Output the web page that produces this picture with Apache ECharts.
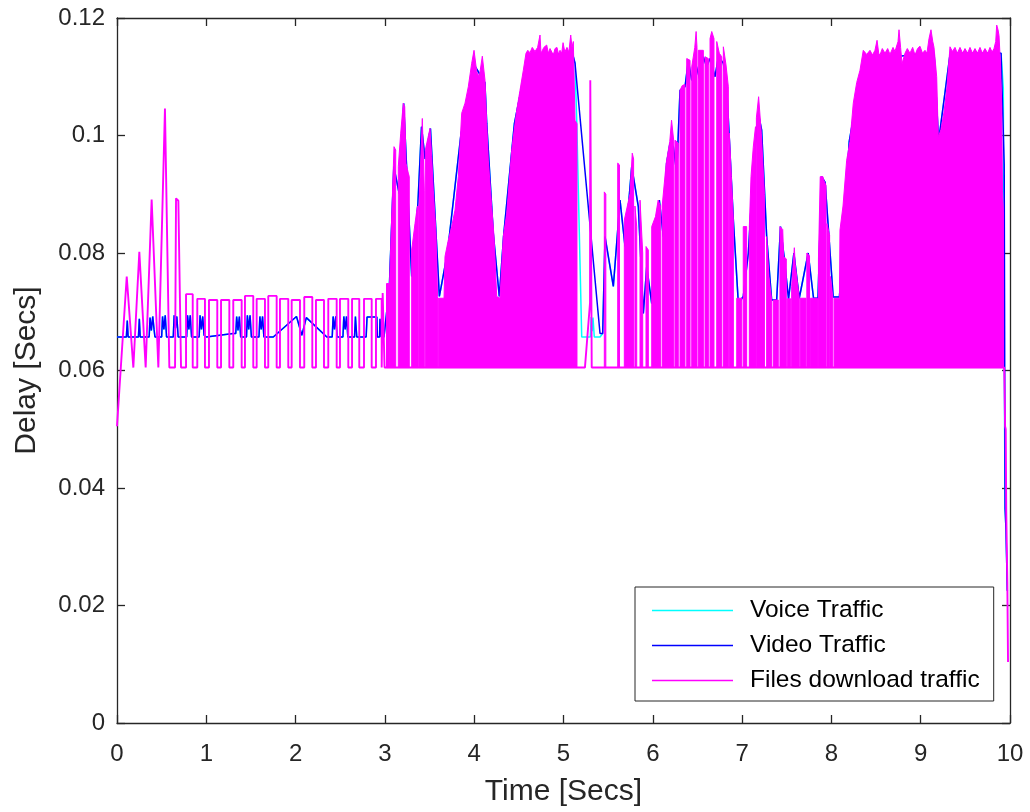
<!DOCTYPE html>
<html>
<head>
<meta charset="utf-8">
<script src="https://cdn.jsdelivr.net/npm/echarts@6/dist/echarts.min.js"></script>
<style>
html,body{margin:0;padding:0;background:#fff;}
#chart{width:1030px;height:812px;}
</style>
</head>
<body>
<div id="chart"></div>
<script>
// ---------------- DATA ----------------
var seriesNames = ['Voice Traffic', 'Video Traffic', 'Files download traffic'];
var xTicks = [0,1,2,3,4,5,6,7,8,9,10];
var yTicks = [0,0.02,0.04,0.06,0.08,0.1,0.12];

// Files download traffic: floor level of the oscillation
var filesBase = 0.0605;

// Files download traffic: first spikes (time, delay)
var filesStart = [[0.00,0.0505],[0.109,0.0760],[0.183,0.0605],[0.25,0.0802],[0.321,0.0605],
  [0.388,0.0891],[0.463,0.0605],[0.537,0.1046],[0.586,0.0605],[0.65,0.0605],
  [0.661,0.0893],[0.687,0.0889],[0.705,0.0889],[0.717,0.0605]];

// Files download traffic: rectangular pulses between 0.77 s and 3 s
var pulseStart = [0.773,0.899,1.030,1.165,1.302,1.433,1.564,1.694,1.825,1.956,2.097,2.228,2.366,2.497,2.632,2.766,2.900,2.975];
var pulseEnd   = [0.848,0.985,1.123,1.258,1.396,1.526,1.657,1.788,1.918,2.049,2.187,2.318,2.460,2.590,2.713,2.852,2.964,2.996];
var pulseTop   = [0.0730,0.0722,0.0720,0.0720,0.0720,0.0727,0.0722,0.0727,0.0722,0.0720,0.0725,0.0720,0.0722,0.0722,0.0722,0.0722,0.0722,0.0732];

// Files download traffic: isolated spike after 5 s and the final drop
var filesSpike = [[5.240,0.0605],[5.297,0.0715],[5.300,0.1094],[5.312,0.1094],[5.316,0.0605]];
var filesEnd = [[9.935,0.0605],[9.945,0.0505],[9.952,0.0500],[9.958,0.0360],[9.970,0.0240],[9.978,0.0104]];

// Files download traffic: dense oscillation bursts, upper envelope (time, delay)
var filesBursts = [
  [[3.018,0.0748],[3.047,0.0748]],
  [[3.049,0.0735],[3.102,0.0981],[3.121,0.0975]],
  [[3.150,0.0947],[3.177,0.1004],[3.206,0.1055],[3.222,0.1049],[3.236,0.0953],[3.262,0.0936],[3.273,0.0930]],
  [[3.300,0.0805],[3.337,0.0850],[3.363,0.0879],[3.374,0.0880]],
  [[3.382,0.0880],[3.419,0.1029],[3.441,0.0907]],
  [[3.452,0.0975],[3.505,0.1012],[3.524,0.0964],[3.542,0.0907],[3.572,0.0834],[3.590,0.0726]],
  [[3.598,0.0723],[3.662,0.0723],[3.673,0.0794],[3.710,0.0822],[3.748,0.0845],[3.785,0.0873],[3.822,0.0930],
   [3.860,0.1038],[3.897,0.1055],[3.934,0.1083],[3.972,0.1123],[3.998,0.1145],[4.028,0.1109],[4.057,0.1100],
   [4.091,0.1135],[4.121,0.1094],[4.140,0.1021],[4.158,0.0958],[4.196,0.0879],[4.222,0.0828],[4.252,0.0726],
   [4.289,0.0723],[4.326,0.0828],[4.364,0.0867],[4.420,0.0975],[4.476,0.1043],[4.513,0.1077],[4.550,0.1111],
   [4.580,0.1140],[4.600,0.1145],[4.625,0.1141],[4.650,0.1150],[4.681,0.1143],[4.710,0.1150],[4.737,0.1171],
   [4.748,0.1140],[4.780,0.1150],[4.812,0.1154],[4.830,0.1140],[4.849,0.1148],[4.886,0.1137],[4.905,0.1148],
   [4.927,0.1150],[4.945,0.1138],[4.961,0.1145],[4.980,0.1140],[4.995,0.1158],[5.015,0.1142],[5.039,0.1150],
   [5.060,0.1142],[5.081,0.1171],[5.095,0.1150],[5.110,0.1160],[5.129,0.1026],[5.151,0.1020]],
  [[5.457,0.0904],[5.474,0.0900]],
  [[5.607,0.0953],[5.627,0.0950]],
  [[5.681,0.0856],[5.715,0.0880],[5.745,0.0901],[5.770,0.0970],[5.785,0.0960]],
  [[5.800,0.0880],[5.820,0.0845]],
  [[5.857,0.0890],[5.887,0.0800]],
  [[5.924,0.0811],[5.950,0.0805]],
  [[5.988,0.0845],[6.030,0.0862],[6.060,0.0890],[6.085,0.0880]],
  [[6.105,0.0880],[6.150,0.0953],[6.190,0.0990],[6.210,0.1026],[6.235,0.0990]],
  [[6.249,0.0992],[6.285,0.0987]],
  [[6.305,0.1077],[6.330,0.1085],[6.360,0.1087]],
  [[6.380,0.1131],[6.417,0.1128]],
  [[6.436,0.1117],[6.470,0.1150],[6.485,0.1177],[6.495,0.1150]],
  [[6.510,0.1145],[6.566,0.1145]],
  [[6.585,0.1134],[6.622,0.1131]],
  [[6.641,0.1165],[6.660,0.1177],[6.685,0.1165]],
  [[6.716,0.1160],[6.745,0.1140],[6.772,0.1134]],
  [[6.790,0.1151],[6.820,0.1120],[6.846,0.1083]],
  [[6.857,0.1004],[6.880,0.0930],[6.902,0.0856]],
  [[6.940,0.0723],[6.996,0.0723]],
  [[7.013,0.0845],[7.051,0.0845]],
  [[7.081,0.0845],[7.100,0.0930],[7.125,0.0980],[7.150,0.1015]],
  [[7.160,0.1030],[7.185,0.1066],[7.215,0.1004],[7.250,0.0900]],
  [[7.275,0.0828],[7.300,0.0760],[7.331,0.0720]],
  [[7.349,0.0720],[7.405,0.0720]],
  [[7.424,0.0845],[7.455,0.0840],[7.465,0.0794],[7.495,0.0790]],
  [[7.505,0.0722],[7.545,0.0722]],
  [[7.555,0.0743],[7.585,0.0809],[7.595,0.0780],[7.640,0.0723]],
  [[7.650,0.0723],[7.715,0.0723]],
  [[7.725,0.0800],[7.755,0.0795]],
  [[7.765,0.0723],[7.845,0.0723]],
  [[7.855,0.0790],[7.875,0.0930],[7.905,0.0930],[7.915,0.0924],[7.940,0.0915]],
  [[7.950,0.0850],[7.980,0.0830]],
  [[7.990,0.0760],[8.015,0.0725]],
  [[8.030,0.0723],[8.090,0.0723],[8.096,0.0839],[8.130,0.0880],[8.171,0.0958],[8.208,0.0990],[8.245,0.1055],
   [8.283,0.1090],[8.320,0.1111],[8.357,0.1145],[8.395,0.1138],[8.432,0.1145],[8.460,0.1137],[8.488,0.1145],
   [8.511,0.1162],[8.530,0.1140],[8.544,0.1137],[8.570,0.1148],[8.600,0.1140],[8.630,0.1148],[8.656,0.1138],
   [8.690,0.1150],[8.712,0.1143],[8.746,0.1160],[8.757,0.1180],[8.775,0.1150],[8.791,0.1122],[8.824,0.1140],
   [8.850,0.1148],[8.880,0.1140],[8.910,0.1150],[8.936,0.1137],[8.965,0.1148],[8.992,0.1152],[9.020,0.1140],
   [9.048,0.1145],[9.070,0.1140],[9.093,0.1165],[9.115,0.1180],[9.135,0.1160],[9.149,0.1150],
   [9.179,0.1100],[9.197,0.0998],[9.227,0.1010],[9.261,0.1040],[9.295,0.1083],[9.328,0.1151],[9.355,0.1143],
   [9.384,0.1150],[9.410,0.1140],[9.440,0.1150],[9.470,0.1140],[9.496,0.1148],[9.525,0.1140],[9.552,0.1150],
   [9.580,0.1140],[9.608,0.1148],[9.635,0.1140],[9.664,0.1150],[9.690,0.1140],[9.720,0.1148],[9.750,0.1140],
   [9.776,0.1150],[9.800,0.1142],[9.821,0.1148],[9.840,0.1160],[9.851,0.1188],[9.866,0.1180],[9.877,0.1170],
   [9.894,0.1120],[9.907,0.1050],[9.916,0.0907],[9.927,0.0870]]
];

// Video traffic (time, delay)
var videoTraffic = [[0.00,0.0657],[0.105,0.0657],[0.115,0.0685],[0.125,0.0657],
  [0.24,0.0657],[0.25,0.0688],[0.26,0.0657],
  [0.36,0.0657],[0.37,0.0690],[0.385,0.0668],[0.40,0.0692],[0.415,0.0670],[0.425,0.0657],
  [0.50,0.0657],[0.51,0.0692],[0.525,0.0670],[0.54,0.0694],[0.555,0.0657],
  [0.63,0.0657],[0.64,0.0694],[0.655,0.0672],[0.67,0.0692],[0.685,0.0657],
  [0.78,0.0657],[0.79,0.0694],[0.805,0.0670],[0.82,0.0694],[0.835,0.0657],
  [0.92,0.0657],[0.93,0.0694],[0.945,0.0670],[0.96,0.0692],[0.975,0.0660],[1.00,0.0657],
  [1.30,0.0663],[1.33,0.0663],[1.34,0.0692],[1.355,0.0668],[1.37,0.0692],[1.385,0.0657],
  [1.45,0.0657],[1.46,0.0694],[1.475,0.0670],[1.49,0.0694],[1.505,0.0657],
  [1.59,0.0657],[1.60,0.0692],[1.615,0.0670],[1.63,0.0692],[1.645,0.0657],
  [1.75,0.0657],[2.01,0.0692],[2.07,0.0660],[2.12,0.0690],[2.35,0.0657],
  [2.41,0.0657],[2.42,0.0692],[2.435,0.0670],[2.45,0.0692],[2.465,0.0657],
  [2.53,0.0657],[2.54,0.0692],[2.555,0.0670],[2.57,0.0692],[2.585,0.0657],
  [2.66,0.0657],[2.67,0.0692],[2.685,0.0657],
  [2.79,0.0657],[2.80,0.0691],[2.91,0.0691],[2.915,0.0657],
  [2.94,0.0657],[2.945,0.0688],[2.96,0.0657],[2.99,0.0657],
  [3.05,0.0743],[3.10,0.0947],[3.16,0.0901],[3.21,0.1055],[3.30,0.0760],[3.34,0.0828],[3.37,0.0885],
  [3.41,0.1015],[3.45,0.0960],[3.51,0.1012],[3.61,0.0726],[3.70,0.0800],[3.85,0.1000],[4.00,0.1120],
  [4.12,0.1090],[4.14,0.1021],[4.214,0.0833],[4.281,0.0726],[4.33,0.0830],[4.45,0.1020],[4.60,0.1135],
  [5.10,0.1140],[5.129,0.1123],[5.409,0.0663],[5.439,0.0663],[5.465,0.0828],[5.558,0.0743],[5.633,0.0890],
  [5.689,0.0811],[5.764,0.0947],[5.838,0.0879],[5.894,0.0697],[5.932,0.0777],[5.988,0.0714],[6.025,0.0845],
  [6.073,0.0890],[6.118,0.0828],[6.155,0.0953],[6.193,0.0987],[6.230,0.0981],[6.268,0.0936],[6.305,0.1077],
  [6.361,0.1083],[6.398,0.1128],[6.436,0.1094],[6.473,0.1126],[6.529,0.1094],[6.566,0.1134],[6.603,0.1117],
  [6.641,0.1131],[6.697,0.1100],[6.734,0.1134],[6.790,0.1123],[6.828,0.1083],[6.902,0.0856],[6.958,0.0714],
  [7.013,0.0726],[7.070,0.0800],[7.125,0.0942],[7.181,0.1038],[7.219,0.1009],[7.275,0.0828],[7.331,0.0720],
  [7.387,0.0720],[7.43,0.0845],[7.47,0.0794],[7.52,0.0722],[7.58,0.0800],[7.64,0.0723],[7.74,0.0800],
  [7.80,0.0723],[7.85,0.0723],[7.89,0.0930],[7.93,0.0920],[8.02,0.0725],[8.09,0.0725],[8.20,0.0990],
  [8.36,0.1130],[9.15,0.1140],[9.20,0.0990],[9.33,0.1140],[9.90,0.1140],[9.935,0.0950],[9.945,0.0365],
  [9.955,0.0330],[9.97,0.0225]];

// Voice traffic (time, delay)
var voiceTraffic = [[0.00,0.0657],[0.105,0.0657],[0.115,0.0685],[0.125,0.0657],
  [0.24,0.0657],[0.25,0.0688],[0.26,0.0657],
  [0.36,0.0657],[0.37,0.0690],[0.385,0.0668],[0.40,0.0692],[0.415,0.0670],[0.425,0.0657],
  [0.50,0.0657],[0.51,0.0692],[0.525,0.0670],[0.54,0.0694],[0.555,0.0657],
  [0.63,0.0657],[0.64,0.0694],[0.655,0.0672],[0.67,0.0692],[0.685,0.0657],
  [0.78,0.0657],[0.79,0.0694],[0.805,0.0670],[0.82,0.0694],[0.835,0.0657],
  [0.92,0.0657],[0.93,0.0694],[0.945,0.0670],[0.96,0.0692],[0.975,0.0660],[1.00,0.0657],
  [1.30,0.0663],[1.33,0.0663],[1.34,0.0692],[1.355,0.0668],[1.37,0.0692],[1.385,0.0657],
  [1.45,0.0657],[1.46,0.0694],[1.475,0.0670],[1.49,0.0694],[1.505,0.0657],
  [1.59,0.0657],[1.60,0.0692],[1.615,0.0670],[1.63,0.0692],[1.645,0.0657],
  [1.75,0.0657],[2.01,0.0692],[2.07,0.0660],[2.12,0.0690],[2.35,0.0657],
  [2.41,0.0657],[2.42,0.0692],[2.435,0.0670],[2.45,0.0692],[2.465,0.0657],
  [2.53,0.0657],[2.54,0.0692],[2.555,0.0670],[2.57,0.0692],[2.585,0.0657],
  [2.66,0.0657],[2.67,0.0692],[2.685,0.0657],
  [2.79,0.0657],[2.80,0.0691],[2.91,0.0691],[2.915,0.0657],
  [2.94,0.0657],[2.945,0.0688],[2.96,0.0657],[2.99,0.0657],
  [3.05,0.0743],[3.10,0.0947],[3.16,0.0901],[3.21,0.1055],[3.30,0.0760],[3.34,0.0828],[3.37,0.0885],
  [3.41,0.1015],[3.45,0.0960],[3.51,0.1012],[3.61,0.0726],[3.70,0.0800],[3.85,0.1000],[4.00,0.1120],
  [4.12,0.1090],[4.14,0.1021],[4.214,0.0833],[4.281,0.0726],[4.33,0.0830],[4.45,0.1020],[4.60,0.1135],
  [5.10,0.1140],[5.129,0.1123],[5.148,0.1026],[5.204,0.0657],[5.300,0.0657],[5.310,0.0691],[5.320,0.0667],
  [5.330,0.0690],[5.345,0.0657],[5.409,0.0657],[5.439,0.0663],[5.465,0.0828],[5.558,0.0743],[5.633,0.0890],
  [5.689,0.0811],[5.764,0.0947],[5.838,0.0879],[5.894,0.0697],[5.932,0.0777],[5.988,0.0714],[6.025,0.0845],
  [6.073,0.0890],[6.118,0.0828],[6.155,0.0953],[6.193,0.0987],[6.230,0.0981],[6.268,0.0936],[6.305,0.1077],
  [6.361,0.1083],[6.398,0.1128],[6.436,0.1094],[6.473,0.1126],[6.529,0.1094],[6.566,0.1134],[6.603,0.1117],
  [6.641,0.1131],[6.697,0.1100],[6.734,0.1134],[6.790,0.1123],[6.828,0.1083],[6.902,0.0856],[6.958,0.0714],
  [7.013,0.0726],[7.070,0.0800],[7.125,0.0942],[7.181,0.1038],[7.219,0.1009],[7.275,0.0828],[7.331,0.0720],
  [7.387,0.0720],[7.43,0.0845],[7.47,0.0794],[7.52,0.0722],[7.58,0.0800],[7.64,0.0723],[7.74,0.0800],
  [7.80,0.0723],[7.85,0.0723],[7.89,0.0930],[7.93,0.0920],[8.02,0.0725],[8.09,0.0725],[8.20,0.0990],
  [8.36,0.1130],[9.15,0.1140],[9.20,0.0990],[9.33,0.1140],[9.90,0.1140],[9.925,0.1080],[9.935,0.0610],
  [9.945,0.0365],[9.955,0.0330],[9.97,0.0225]];

// ---------------- BUILD ----------------
var filesLine = filesStart.slice();
for (var i = 0; i < pulseStart.length; i++) {
  filesLine.push([pulseStart[i], filesBase], [pulseStart[i], pulseTop[i]],
                 [pulseEnd[i], pulseTop[i]], [pulseEnd[i], filesBase]);
}
filesLine = filesLine.concat(filesSpike, filesEnd);

var FONT = "'Liberation Sans', Arial, Helvetica, sans-serif";
var AX = '#262626';

var chart = echarts.init(document.getElementById('chart'), null, {renderer: 'canvas'});

function axisCommon(extra) {
  var base = {
    type: 'value',
    axisLine: {show: true, onZero: false, lineStyle: {color: AX, width: 1.3}},
    axisTick: {show: true, inside: true, length: 8, lineStyle: {color: AX, width: 1.3}},
    splitLine: {show: false}
  };
  for (var k in extra) base[k] = extra[k];
  return base;
}

var option = {
  animation: false,
  backgroundColor: '#ffffff',
  grid: {left: 117, right: 20, top: 18, bottom: 89, containLabel: false, outerBoundsMode: 'none'},
  legend: {
    data: seriesNames,
    orient: 'vertical',
    left: 635, top: 587,
    padding: [11, 14, 8, 17],
    icon: 'rect',
    itemWidth: 81, itemHeight: 1.5, itemGap: 10,
    backgroundColor: '#ffffff',
    borderColor: AX, borderWidth: 1, borderRadius: 0,
    textStyle: {fontFamily: FONT, fontSize: 24.5, color: '#000', lineHeight: 24, padding: [0, 0, 0, 12]}
  },
  xAxis: [
    axisCommon({min: 0, max: 10, interval: 1, position: 'bottom',
      name: 'Time [Secs]', nameLocation: 'middle', nameGap: 54,
      nameTextStyle: {fontFamily: FONT, fontSize: 30, color: AX},
      axisLabel: {fontFamily: FONT, fontSize: 24, color: AX, margin: 19,
        formatter: function(v){ return xTicks.indexOf(v) >= 0 ? String(v) : ''; }}}),
    axisCommon({min: 0, max: 10, interval: 1, position: 'top', axisLabel: {show: false}})
  ],
  yAxis: [
    axisCommon({min: 0, max: 0.12, interval: 0.02, position: 'left',
      name: 'Delay [Secs]', nameLocation: 'middle', nameGap: 75,
      nameTextStyle: {fontFamily: FONT, fontSize: 30, color: AX},
      axisLabel: {fontFamily: FONT, fontSize: 24, color: AX, margin: 12,
        formatter: function(v){
          for (var j = 0; j < yTicks.length; j++) if (Math.abs(yTicks[j] - v) < 1e-9) return String(yTicks[j]);
          return '';
        }}}),
    axisCommon({min: 0, max: 0.12, interval: 0.02, position: 'right', axisLabel: {show: false}})
  ],
  series: [
    {name: seriesNames[0], type: 'line', data: voiceTraffic, symbol: 'none', z: 2,
     lineStyle: {color: '#00FFFF', width: 1.5}, itemStyle: {color: '#00FFFF'}},
    {name: seriesNames[1], type: 'line', data: videoTraffic, symbol: 'none', z: 3,
     lineStyle: {color: '#0000FF', width: 1.5}, itemStyle: {color: '#0000FF'}},
    {name: seriesNames[2], type: 'line', data: filesLine, symbol: 'none', z: 4,
     lineStyle: {color: '#FF00FF', width: 1.9}, itemStyle: {color: '#FF00FF'}},
    {name: 'files-bursts', type: 'custom', z: 4,
     data: filesBursts.map(function(b){ return [b[0][0], b[0][1]]; }),
     renderItem: function(params, api) {
       var blk = filesBursts[params.dataIndex];
       var pts = blk.map(function(p){ return api.coord(p); });
       pts.push(api.coord([blk[blk.length - 1][0], filesBase]));
       pts.push(api.coord([blk[0][0], filesBase]));
       return {type: 'polygon', shape: {points: pts},
               style: {fill: '#FF00FF', stroke: '#FF00FF', lineWidth: 1}};
     }}
  ]
};
chart.setOption(option);
</script>
</body>
</html>
